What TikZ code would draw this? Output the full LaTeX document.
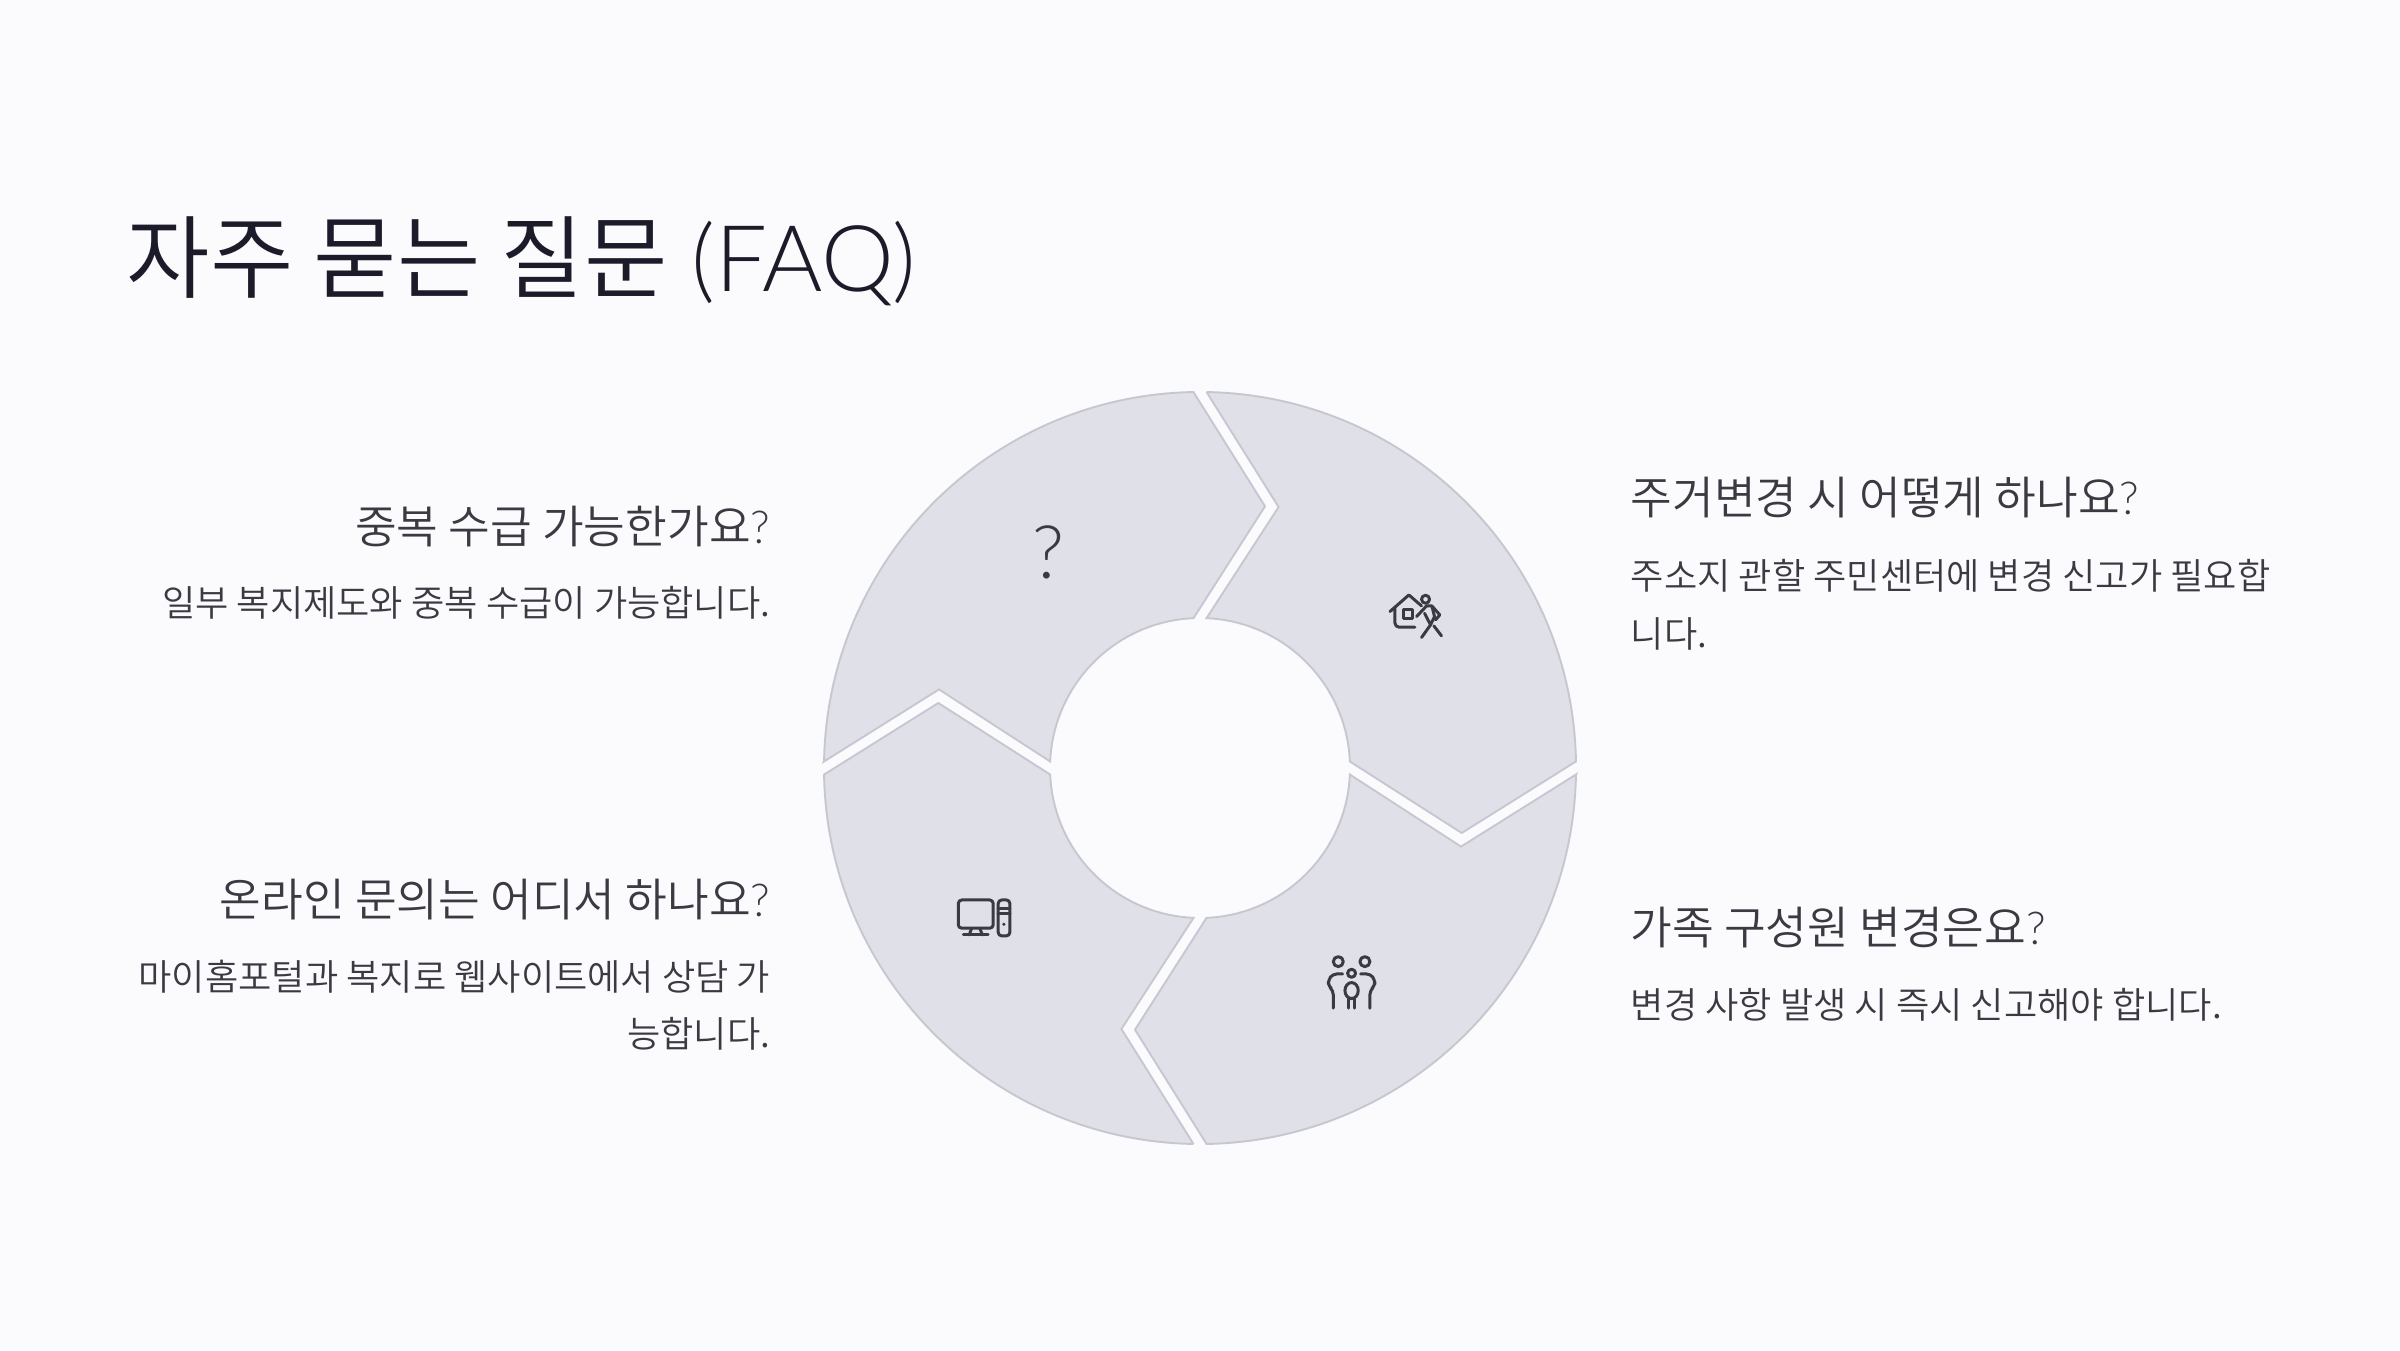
\documentclass[tikz,border=0pt]{standalone}
\usepackage{fontspec}
\usepackage{xcolor}
\setmainfont{Noto Sans CJK KR DemiLight}
\newfontfamily\latinfont{Lato Light}
\usetikzlibrary{positioning}
\definecolor{faqbg}{HTML}{FBFBFE}
\definecolor{faqink}{HTML}{1B1B29}
\definecolor{faqtext}{HTML}{3A3A42}
\definecolor{faqfill}{HTML}{E0E1E8}
\definecolor{faqedge}{HTML}{C6C7D1}

\begin{document}
\begin{tikzpicture}[
  titlenode/.style={anchor=west, inner sep=0pt, text=faqink, font=\fontsize{25.8}{30}\selectfont},
  headnode/.style={inner sep=0pt, text=faqtext, font=\fontsize{12.9}{16}\selectfont},
  bodynode/.style={inner sep=0pt, text=faqtext, font=\fontsize{10.3}{16.3}\selectfont},
  segment/.style={draw=faqedge, fill=faqfill, line width=0.55pt, line join=miter},
  iconline/.style={draw=faqtext, line width=0.85pt, line cap=round, line join=round},
]

\fill[faqbg] (0,0) rectangle (24,13.5);
\useasboundingbox (0,0) rectangle (24,13.5);

% Title
\node[titlenode] (title) at (1.26, 10.89) {자주 묻는 질문 \kern 1pt{\latinfont\fontsize{26.2}{30}\selectfont (FAQ)}};

% Ring: one segment, turned four times
\foreach \turn in {0,90,180,270} {
  \begin{scope}[shift={(12,5.82)}, rotate=\turn]
    \draw[segment] (89:3.76) -- (0.786,2.61) -- (87.5:1.5) arc (87.5:2.5:1.5)
      -- (2.617,-0.65) -- (1:3.76) arc (1:89:3.76) -- cycle;
  \end{scope}
}

% Right side
\node[headnode, anchor=west] (head1) at (16.3, 8.52) {주거변경 시 어떻게 하나요{\latinfont ?}};
\node[bodynode, anchor=north west, align=left] (body1) at (16.3, 7.91) {주소지 관할 주민센터에 변경 신고가 필요합\\니다.};
\node[headnode, anchor=west] (head2) at (16.3, 4.22) {가족 구성원 변경은요{\latinfont ?}};
\node[bodynode, anchor=north west, align=left] (body2) at (16.3, 3.62) {변경 사항 발생 시 즉시 신고해야 합니다.};

% Left side
\node[headnode, anchor=east] (head3) at (7.71, 8.23) {중복 수급 가능한가요{\latinfont ?}};
\node[bodynode, anchor=north east, align=right] (body3) at (7.71, 7.64) {일부 복지제도와 중복 수급이 가능합니다.};
\node[headnode, anchor=east] (head4) at (7.71, 4.50) {온라인 문의는 어디서 하나요{\latinfont ?}};
\node[bodynode, anchor=north east, align=right] (body4) at (7.71, 3.91) {마이홈포털과 복지로 웹사이트에서 상담 가\\능합니다.};

% Icons
\node[inner sep=0pt, text=faqtext, font=\fontsize{21}{24}\latinfont] (askicon) at (10.48, 7.98) {?};

\begin{scope}[shift={(13.6,7.8)}, x=0.003333cm, y=-0.003333cm]
  \draw[iconline] (90,125) -- (147,75) -- (185,108);
  \draw[iconline, rounded corners=1.2pt] (105,112) -- (105,172) -- (165,172);
  \draw[iconline] (130,118) rectangle (157,145);
  \draw[iconline] (197,88) circle (12);
  \draw[iconline] (170,140) -- (200,108);
  \draw[iconline] (216,108) -- (240,135) -- (227,150);
  \draw[iconline] (200,108) -- (216,108) -- (224,140) -- (212,165) -- (194,130);
  \draw[iconline] (212,165) -- (185,203);
  \draw[iconline] (222,168) -- (245,198);
\end{scope}

\begin{scope}[shift={(13.1,4.1)}, x=0.003333cm, y=-0.003333cm]
  \draw[iconline] (85,65) circle (15);
  \draw[iconline] (165,65) circle (15);
  \draw[iconline] (125,100) circle (12);
  \draw[iconline, rounded corners=1.2pt] (98,102) -- (68,102) -- (55,120) -- (55,138) -- (70,152) -- (70,205);
  \draw[iconline, rounded corners=1.2pt] (152,102) -- (182,102) -- (195,120) -- (195,138) -- (180,152) -- (180,205);
  \draw[iconline] (125,152) ellipse (20 and 24);
  \draw[iconline] (116,175) -- (116,205);
  \draw[iconline] (135,175) -- (135,205);
\end{scope}

\begin{scope}[shift={(9.4,4.7)}, x=0.003333cm, y=-0.003333cm]
  \draw[iconline, rounded corners=1pt] (55,60) rectangle (160,145);
  \draw[iconline] (95,145) -- (88,165);
  \draw[iconline] (120,145) -- (127,165);
  \draw[iconline] (70,165) -- (145,165);
  \draw[iconline, rounded corners=1pt] (175,60) rectangle (210,168);
  \draw[iconline] (175,85) -- (210,85);
  \draw[iconline] (175,100) -- (210,100);
  \fill[faqtext] (192,133) circle (5);
\end{scope}

\end{tikzpicture}
\end{document}
